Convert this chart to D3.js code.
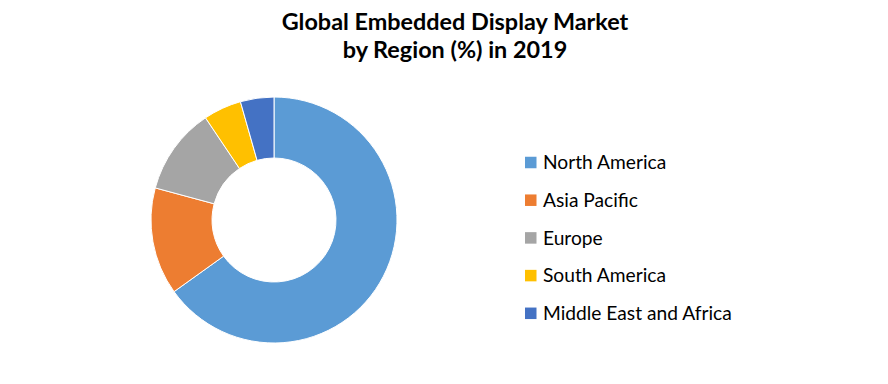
<!DOCTYPE html>
<html>
<head>
<meta charset="utf-8">
<script src="https://cdn.jsdelivr.net/npm/d3@7"></script>
<style>
  body { margin: 0; background: #fff; }
  text { font-family: Lato, "Open Sans", sans-serif; fill: #000; }
</style>
</head>
<body>
<script>
// data
var regions = ["North America", "Asia Pacific", "Europe", "South America", "Middle East and Africa"];
var shares = [65.1, 14.1, 11.4, 5.0, 4.4];
var colors = ["#5B9BD5", "#ED7D31", "#A5A5A5", "#FFC000", "#4472C4"];
var titleLines = ["Global Embedded Display Market", "by Region (%) in 2019"];

var width = 888, height = 384;
var cx = 274, cy = 220, outerR = 123, innerR = 62;

var svg = d3.select("body").append("svg")
	.attr("width", width)
	.attr("height", height);

// title
svg.append("text")
	.attr("x", 455)
	.attr("text-anchor", "middle")
	.style("font-weight", "bold")
	.style("font-size", "23.4px")
	.selectAll("tspan")
	.data(titleLines).enter()
	.append("tspan")
	.attr("x", 455)
	.attr("y", function(d, i) { return 30 + i * 27.5; })
	.text(function(d) { return d; });

var color = d3.scaleOrdinal().domain(regions).range(colors);

var pie = d3.pie().sort(null).value(function(d) { return d.value; });
var arc = d3.arc().innerRadius(innerR).outerRadius(outerR);

var data = regions.map(function(r, i) { return {name: r, value: shares[i]}; });

var donut = svg.append("g")
	.attr("transform", "translate(" + cx + "," + cy + ")");

donut.selectAll("path")
	.data(pie(data)).enter()
	.append("path")
	.attr("d", arc)
	.style("fill", function(d) { return color(d.data.name); })
	.style("stroke", "#fff")
	.style("stroke-width", 1);

// legend
var legend = svg.selectAll(".legend")
	.data(regions).enter()
	.append("g")
	.attr("class", "legend")
	.attr("transform", function(d, i) { return "translate(525," + (162.5 + i * 37.7) + ")"; });

legend.append("rect")
	.attr("x", 0)
	.attr("y", -5.75)
	.attr("width", 11.5)
	.attr("height", 11.5)
	.style("fill", function(d) { return color(d); });

legend.append("text")
	.attr("x", 18)
	.attr("dy", "0.35em")
	.style("font-size", "19.2px")
	.text(function(d) { return d; });
</script>
</body>
</html>
